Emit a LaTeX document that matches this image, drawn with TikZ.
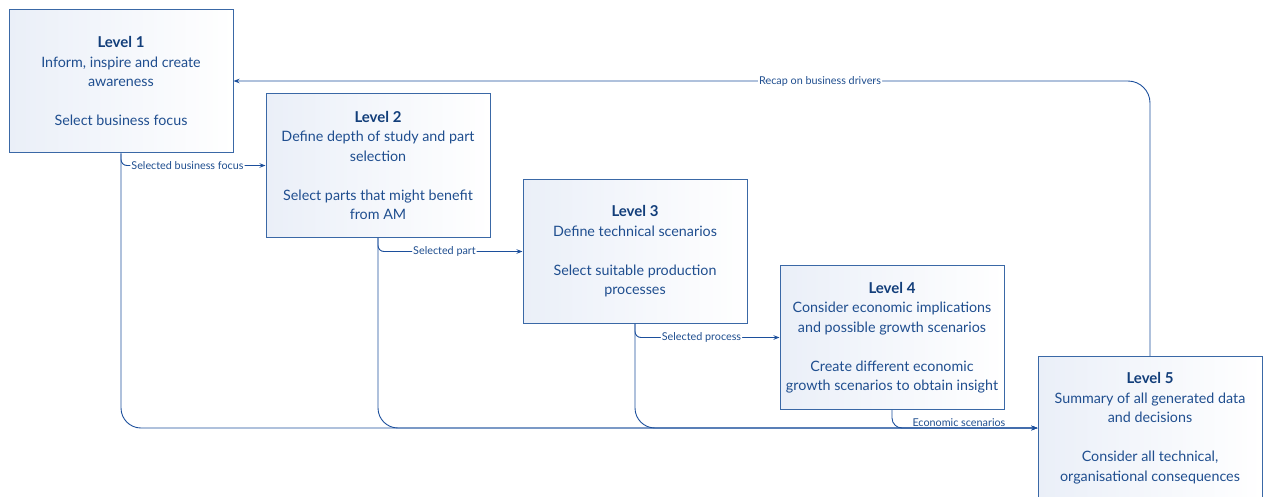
\documentclass[tikz,border=0pt]{standalone}
\usepackage{fontspec}
\setmainfont{Lato}
\usetikzlibrary{arrows.meta}
\definecolor{ink}{HTML}{1F4E8F}
\definecolor{titleink}{HTML}{123E7A}
\definecolor{frame}{HTML}{3A68A6}
\definecolor{wire}{HTML}{1C4F9C}
\definecolor{tint}{HTML}{EAEFF8}
\begin{document}
\begin{tikzpicture}[x=1pt,y=-1pt,
  level/.style={draw=frame, line width=1pt, minimum width=224pt,
    minimum height=143.5pt, inner sep=0pt, align=center, text=ink,
    left color=tint, right color=white,
    font=\fontsize{14.3}{19.5}\selectfont},
  heading/.style={},
  link/.style={draw=wire, line width=0.9pt,
    -{Stealth[length=6pt,width=4.5pt]}},
  tagfont/.style={font=\fontsize{10.8}{12}\selectfont, text=ink, inner sep=1pt},
  tag/.style={tagfont, fill=white},
]
\useasboundingbox (0,0) rectangle (1265,496);
\clip (0,0) rectangle (1265,496);

\newcommand{\lvl}[1]{{\fontsize{15}{19.5}\selectfont\bfseries\color{titleink}Level #1}}

% the five study levels
\node[level] (b1) at (121,81) {\lvl{1}\\
  Inform, inspire and create\\ awareness\\[19.5pt] Select business focus};
\node[level] (b2) at (378,165.5) {\lvl{2}\\
  Define depth of study and part\\ selection\\[19.5pt]
  Select parts that might benefit\\ from AM};
\node[level] (b3) at (635,251.5) {\lvl{3}\\
  Define technical scenarios\\[19.5pt] Select suitable production\\ processes};
\node[level] (b4) at (892,337.5) {\lvl{4}\\
  Consider economic implications\\ and possible growth scenarios\\[19.5pt]
  Create different economic\\ growth scenarios to obtain insight};
\node[level] (b5) at (1150,428) {\lvl{5}\\
  Summary of all generated data\\ and decisions\\[19.5pt]
  Consider all technical,\\ organisational consequences};

% every level also feeds the summary
\draw[link, rounded corners=20pt] (b1.south) |- (b5.west);
\draw[link, rounded corners=20pt] (b2.south) |- (b5.west);
\draw[link, rounded corners=20pt] (b3.south) |- (b5.west);
\draw[link, rounded corners=10pt] (b4.south) |- node[pos=0.73, above,
  tagfont] {Economic scenarios} (b5.west);

% hand-over from one level to the next
\draw[link, rounded corners=6pt] (b1.south) |- node[tag, pos=0.73]
  {Selected business focus} (b2.west);
\draw[link, rounded corners=6pt] (b2.south) |- node[tag, pos=0.73]
  {Selected part} (b3.west);
\draw[link, rounded corners=6pt] (b3.south) |- node[tag, pos=0.73]
  {Selected process} (b4.west);

% feedback loop
\draw[link, rounded corners=22pt] (b5.north) |- node[tag, pos=0.68]
  {Recap on business drivers} (b1.east);
\end{tikzpicture}
\end{document}
